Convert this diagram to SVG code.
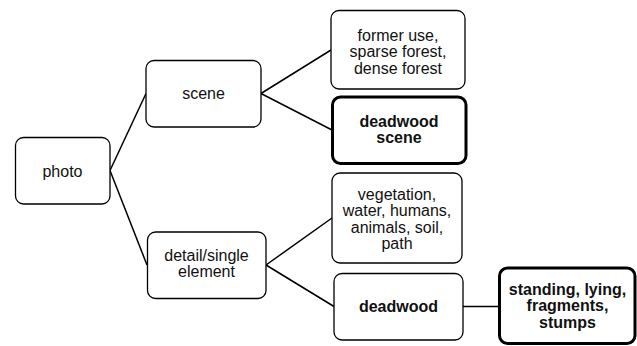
<svg xmlns="http://www.w3.org/2000/svg" width="637" height="346" viewBox="0 0 637 346">
<style>
.box{fill:#fff;stroke:#000;stroke-width:1.3}
.bold{fill:#fff;stroke:#000;stroke-width:3}
.t{font-family:"Liberation Sans",Arial,sans-serif;font-size:16px;fill:#111;text-anchor:middle}
.b{font-weight:bold}
.c{stroke:#000;stroke-width:1.5;fill:none}
</style>
<rect width="637" height="346" fill="#fff"/>
<g id="connectors">
<line class="c" x1="110" y1="170.5" x2="146" y2="93.5"/>
<line class="c" x1="110" y1="170.5" x2="147" y2="265"/>
<line class="c" x1="261" y1="93.5" x2="331" y2="50"/>
<line class="c" x1="261" y1="93.5" x2="332" y2="130"/>
<line class="c" x1="266" y1="265" x2="332" y2="218"/>
<line class="c" x1="266" y1="265" x2="334" y2="306.5"/>
<line class="c" x1="463" y1="306.5" x2="499" y2="306.5"/>
</g>
<g id="photo">
<rect class="box" x="15.5" y="137.5" width="94.5" height="66.5" rx="8"/>
<text class="t" x="62.5" y="176.5">photo</text>
</g>
<g id="scene">
<rect class="box" x="146" y="60.5" width="115" height="66.5" rx="8"/>
<text class="t" x="203.5" y="99">scene</text>
</g>
<g id="detail">
<rect class="box" x="147.5" y="232" width="118.5" height="66.5" rx="8"/>
<text class="t" x="206.5" y="260.5">detail/single</text>
<text class="t" x="206.5" y="276.5">element</text>
</g>
<g id="former">
<rect class="box" x="331" y="10.5" width="134" height="78.5" rx="8"/>
<text class="t" x="398" y="40.5">former use,</text>
<text class="t" x="398" y="57">sparse forest,</text>
<text class="t" x="398" y="73.5">dense forest</text>
</g>
<g id="deadwood-scene">
<rect class="bold" x="332.5" y="97" width="133.5" height="66.5" rx="8"/>
<text class="t b" x="399" y="127">deadwood</text>
<text class="t b" x="399" y="143">scene</text>
</g>
<g id="vegetation">
<rect class="box" x="332" y="173" width="130" height="90" rx="8"/>
<text class="t" x="397" y="199.5">vegetation,</text>
<text class="t" x="397" y="216">water, humans,</text>
<text class="t" x="397" y="232.5">animals, soil,</text>
<text class="t" x="397" y="249">path</text>
</g>
<g id="deadwood">
<rect class="box" x="334" y="273.5" width="129" height="66.5" rx="8"/>
<text class="t b" x="398.5" y="312">deadwood</text>
</g>
<g id="standing">
<rect class="bold" x="499.5" y="268" width="135.5" height="75.5" rx="8"/>
<text class="t b" x="567.5" y="294.5">standing, lying,</text>
<text class="t b" x="567.5" y="311">fragments,</text>
<text class="t b" x="567.5" y="327.5">stumps</text>
</g>
</svg>
